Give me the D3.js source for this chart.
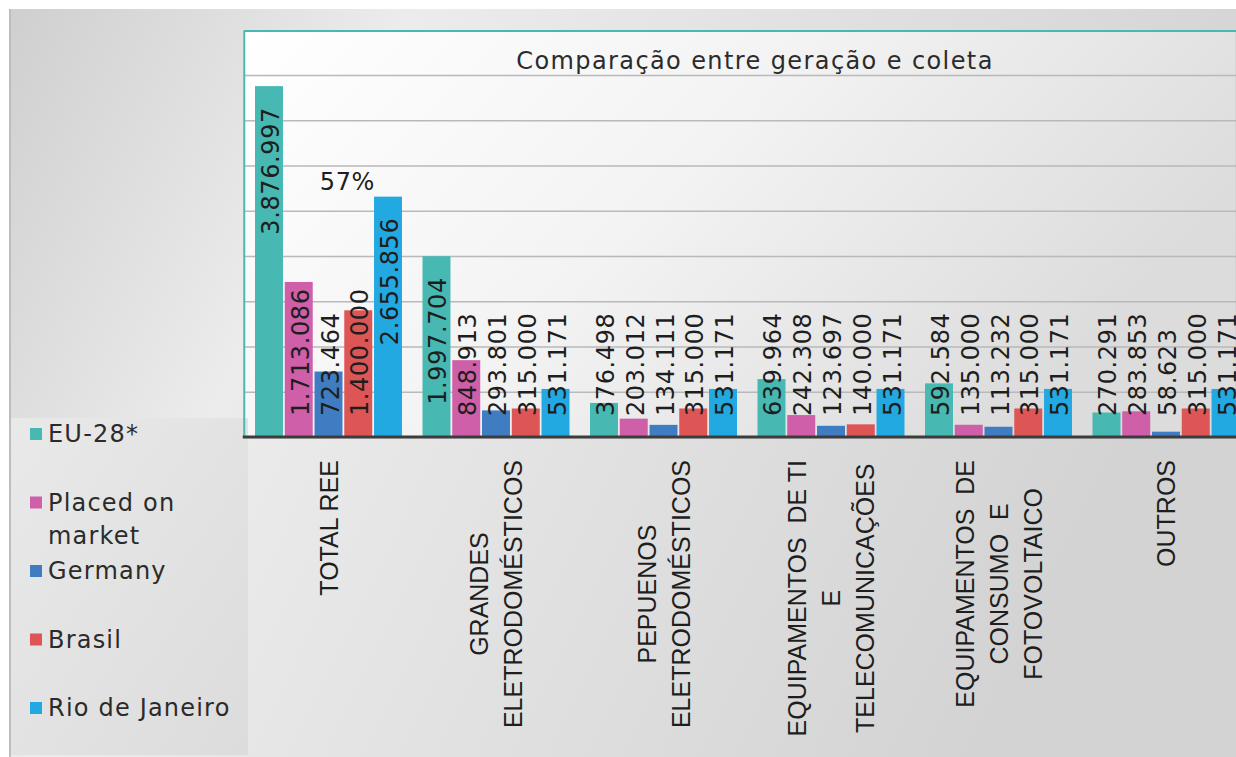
<!DOCTYPE html>
<html>
<head>
<meta charset="utf-8">
<script src="https://cdn.jsdelivr.net/npm/d3@7"></script>
<style>
  body { margin: 0; background: #fff; }
  svg { display: block; }
</style>
</head>
<body>
<svg id="chart"></svg>
<script>
// categorias (quebras de linha como no original)
const categories = [
  "TOTAL REE",
  "GRANDES\nELETRODOMÉSTICOS",
  "PEPUENOS\nELETRODOMÉSTICOS",
  "EQUIPAMENTOS  DE TI\nE\nTELECOMUNICAÇÕES",
  "EQUIPAMENTOS  DE\nCONSUMO  E\nFOTOVOLTAICO",
  "OUTROS"
];
const seriesNames = ["EU-28*", "Placed on market", "Germany", "Brasil", "Rio de Janeiro"];
const seriesColors = ["#47b8b2", "#cf5fa8", "#3f7cc1", "#de5555", "#23a9e1"];

const eu28 = [3876997, 1997704, 376498, 639964, 592584, 270291];
const placedOnMarket = [1713086, 848913, 203012, 242308, 135000, 283853];
const germany = [723464, 293801, 134111, 123697, 113232, 58623];
const brasil = [1400000, 315000, 315000, 140000, 315000, 315000];
const rioDeJaneiro = [2655856, 531171, 531171, 531171, 531171, 531171];

const gridTicks = [0, 500000, 1000000, 1500000, 2000000, 2500000, 3000000, 3500000, 4000000];
const title = "Comparação entre geração e coleta";
const note = "57%";

const seriesValues = [eu28, placedOnMarket, germany, brasil, rioDeJaneiro];
const data = categories.map((c, i) => ({
  cat: c,
  values: seriesNames.map((s, j) => ({ key: s, value: seriesValues[j][i], color: seriesColors[j] }))
}));

const width = 1236, height = 757;
const plotLeft = 244.75, plotRight = 1249.75, plotTop = 31, baseY = 437;

const ptBR = d3.formatLocale({ decimal: ",", thousands: ".", grouping: [3], currency: ["R$", ""] });
const fmt = ptBR.format(",d");

const svg = d3.select("#chart").attr("width", width).attr("height", height);

// gradientes de fundo
const defs = svg.append("defs");
const g1 = defs.append("linearGradient").attr("id", "outerBg")
  .attr("x1", "0").attr("y1", "0").attr("x2", "1").attr("y2", "0.3");
g1.append("stop").attr("offset", "0").attr("stop-color", "#cfcfcf");
g1.append("stop").attr("offset", "0.3").attr("stop-color", "#ececec");
g1.append("stop").attr("offset", "1").attr("stop-color", "#d3d3d3");
const g2 = defs.append("linearGradient").attr("id", "plotBg")
  .attr("x1", "0").attr("y1", "0").attr("x2", "1").attr("y2", "0.4");
g2.append("stop").attr("offset", "0").attr("stop-color", "#ffffff");
g2.append("stop").attr("offset", "0.5").attr("stop-color", "#f3f3f3");
g2.append("stop").attr("offset", "1").attr("stop-color", "#dcdcdc");
const g3 = defs.append("linearGradient").attr("id", "legendBg")
  .attr("x1", "0").attr("y1", "0").attr("x2", "1").attr("y2", "1");
g3.append("stop").attr("offset", "0").attr("stop-color", "#e8e9e8");
g3.append("stop").attr("offset", "1").attr("stop-color", "#dcdcdc");

svg.append("rect").attr("x", 9).attr("y", 9).attr("width", width - 9).attr("height", height - 9)
  .attr("fill", "url(#outerBg)");
svg.append("rect").attr("x", 9).attr("y", 9).attr("width", 2).attr("height", height - 9)
  .attr("fill", "#bdbdbd");
svg.append("rect").attr("x", plotLeft - 1).attr("y", plotTop).attr("width", width - plotLeft).attr("height", baseY - plotTop)
  .attr("fill", "url(#plotBg)");
svg.append("rect").attr("x", 11).attr("y", 418).attr("width", 237).attr("height", height - 420)
  .attr("fill", "url(#legendBg)");

const x0 = d3.scaleBand().domain(categories).range([plotLeft, plotRight]).padding(0);
const x1 = d3.scaleBand().domain(seriesNames)
  .range([10.25, x0.bandwidth() - 10.25]).paddingInner(0.06);
const y = d3.scaleLinear().domain([0, 4000000]).range([baseY, 75]);

// linhas de grade
svg.append("g")
  .attr("transform", "translate(" + plotLeft + ",0)")
  .call(d3.axisLeft(y).tickValues(gridTicks).tickSize(-(width - plotLeft)).tickFormat(""))
  .call(g => g.select(".domain").remove())
  .call(g => g.selectAll(".tick line").attr("stroke", "#b9b9b9").attr("stroke-width", 1.5));

// borda teal
svg.append("line").attr("x1", plotLeft - 1).attr("x2", width).attr("y1", plotTop).attr("y2", plotTop)
  .attr("stroke", "#47b8b2").attr("stroke-width", 2);
svg.append("line").attr("x1", plotLeft - 0.5).attr("x2", plotLeft - 0.5).attr("y1", plotTop).attr("y2", baseY)
  .attr("stroke", "#47b8b2").attr("stroke-width", 2);

// título
svg.append("text")
  .attr("x", 755).attr("y", 69)
  .attr("text-anchor", "middle")
  .style("font-family", "DejaVu Sans")
  .style("font-size", "24px")
  .style("letter-spacing", "1.4px")
  .attr("fill", "#2b2b2b")
  .text(title);

// barras
const groups = svg.selectAll(".grp")
  .data(data)
  .enter().append("g")
  .attr("class", "grp")
  .attr("transform", d => "translate(" + x0(d.cat) + ",0)");

groups.selectAll("rect")
  .data(d => d.values)
  .enter().append("rect")
  .attr("x", d => x1(d.key))
  .attr("y", d => y(d.value))
  .attr("width", x1.bandwidth())
  .attr("height", d => baseY - y(d.value))
  .attr("fill", d => d.color);

// rótulos de dados (rotacionados)
groups.selectAll(".lbl")
  .data(d => d.values)
  .enter().append("text")
  .attr("class", "lbl")
  .attr("text-anchor", "start")
  .attr("dominant-baseline", "central")
  .style("font-family", "DejaVu Sans")
  .style("font-size", "24px")
  .style("letter-spacing", "0.6px")
  .attr("fill", "#1e1e1e")
  .text(d => fmt(d.value))
  .each(function(d) {
    const len = this.getComputedTextLength();
    const bottom = Math.min(416, y(d.value) + 21 + len);
    const cx = x1(d.key) + x1.bandwidth() / 2 + 2;
    d3.select(this).attr("transform", "translate(" + cx + "," + bottom + ") rotate(-90)");
  });

// anotação 57%
svg.append("text")
  .attr("x", x0(categories[0]) + (x1("Germany") + x1("Brasil") + x1.bandwidth()) / 2 + 4)
  .attr("y", y(rioDeJaneiro[0]) - 7)
  .attr("text-anchor", "middle")
  .style("font-family", "DejaVu Sans")
  .style("font-size", "24px")
  .style("letter-spacing", "0.6px")
  .attr("fill", "#1e1e1e")
  .text(note);

// eixo x
const xAxis = svg.append("g")
  .attr("transform", "translate(0," + baseY + ")")
  .call(d3.axisBottom(x0).tickSize(0).tickSizeOuter(0).tickFormat(""));
xAxis.select(".domain").attr("stroke", "#3c3c3c").attr("stroke-width", 3)
  .attr("d", "M" + (plotLeft - 2) + ",0H" + plotRight);

xAxis.selectAll(".tick").each(function(c) {
  const lines = c.split("\n");
  const n = lines.length;
  const tg = d3.select(this).append("g");
  const texts = tg.selectAll("text")
    .data(lines)
    .enter().append("text")
    .attr("text-anchor", "middle")
    .attr("dominant-baseline", "central")
    .style("font-family", "Liberation Sans, Arial")
    .style("font-size", "25px")
    .attr("fill", "#1e1e1e")
    .style("white-space", "pre")
    .attr("xml:space", "preserve")
    .text(d => d);
  let maxLen = 0;
  texts.each(function() { maxLen = Math.max(maxLen, this.getComputedTextLength()); });
  const cy = 460 - baseY + maxLen / 2;
  texts.attr("transform", (d, i) => "translate(" + ((i - (n - 1) / 2) * 34) + "," + cy + ") rotate(-90)");
});

// legenda
const legend = svg.append("g").attr("transform", "translate(30,0)");
const item = legend.selectAll(".item")
  .data(seriesNames)
  .enter().append("g")
  .attr("class", "item")
  .attr("transform", (d, i) => "translate(0," + (434 + i * 68.5) + ")");
item.append("rect")
  .attr("x", 0).attr("y", -6).attr("width", 12).attr("height", 12)
  .attr("fill", (d, i) => seriesColors[i]);
item.each(function(name) {
  const t = d3.select(this).append("text")
    .attr("x", 18)
    .attr("dominant-baseline", "central")
    .style("font-family", "DejaVu Sans")
    .style("font-size", "24px")
    .style("letter-spacing", "1.2px")
    .attr("fill", "#2b2b2b");
  const words = name.split(" ");
  let line = [], lineNo = 0;
  let tspan = t.append("tspan").attr("x", 18).attr("dy", 0);
  words.forEach(w => {
    line.push(w);
    tspan.text(line.join(" "));
    if (tspan.node().getComputedTextLength() > 195 && line.length > 1) {
      line.pop();
      tspan.text(line.join(" "));
      line = [w];
      lineNo++;
      tspan = t.append("tspan").attr("x", 18).attr("dy", 33).text(w);
    }
  });
});
</script>
</body>
</html>
